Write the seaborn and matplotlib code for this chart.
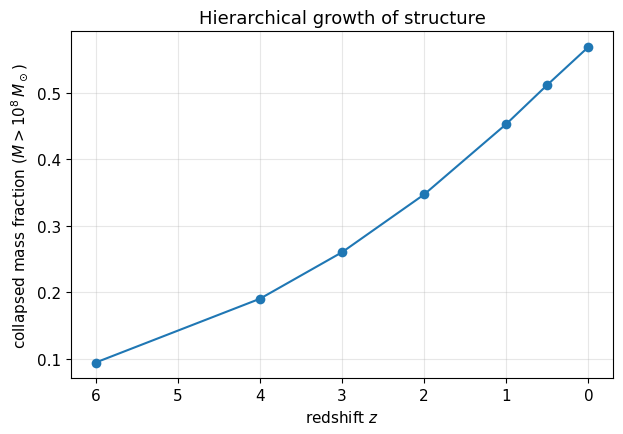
import matplotlib
matplotlib.use("Agg")
import matplotlib.pyplot as plt
import seaborn as sns
import pandas as pd

redshift = [6, 4, 3, 2, 1, 0.5, 0]
collapsed_fraction = [0.094, 0.190, 0.260, 0.347, 0.453, 0.512, 0.569]

df = pd.DataFrame({"z": redshift, "f": collapsed_fraction})

plt.rcParams['font.size'] = 11
fig, ax = plt.subplots(figsize=(6.23, 4.35), dpi=100)
sns.lineplot(data=df, x="z", y="f", marker="o", markersize=7, markeredgewidth=0,
             color="#1f77b4", ax=ax, sort=False)
ax.invert_xaxis()
ax.set_xlabel("redshift $z$")
ax.set_ylabel(r"collapsed mass fraction ($M > 10^8\,M_\odot$)")
ax.set_title("Hierarchical growth of structure", fontsize=13)
ax.grid(True, alpha=0.3)
fig.subplots_adjust(left=0.114, right=0.984, top=0.926, bottom=0.128)
fig.savefig("out.png", dpi=100)
